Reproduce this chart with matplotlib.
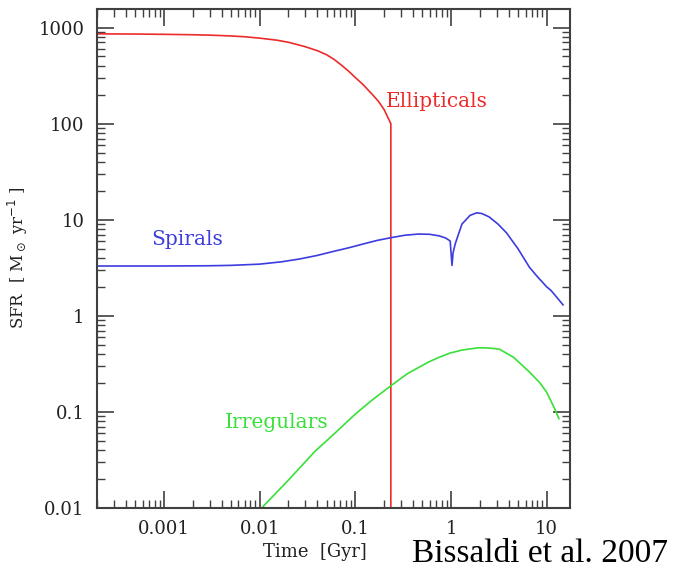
import matplotlib
matplotlib.use("Agg")
import matplotlib.pyplot as plt
from matplotlib.ticker import LogLocator, NullFormatter, FixedLocator, FixedFormatter

# Star formation rate histories (Gyr, Msun/yr)
ell_t = [2e-4, 5e-4, 0.001, 0.002, 0.003, 0.005, 0.007, 0.01, 0.015, 0.02, 0.03, 0.04,
         0.05, 0.06, 0.07, 0.085, 0.1, 0.12, 0.15, 0.175, 0.2, 0.235, 0.235]
ell_sfr = [860, 856, 850, 842, 834, 818, 802, 776, 740, 703, 632, 575,
           522, 466, 414, 352, 302, 256, 202, 170, 140, 100, 0.001]

spi_t = [2e-4, 0.001, 0.003, 0.005, 0.01, 0.017, 0.026, 0.04, 0.06, 0.085, 0.13, 0.17,
         0.235, 0.33, 0.46, 0.6, 0.75, 0.88, 0.98, 1.024, 1.05, 1.1, 1.15, 1.3, 1.58,
         1.85, 2.1, 2.5, 3.1, 3.8, 5.0, 6.6, 8.0, 10.0, 11.0, 11.6, 13.0, 14.8]
spi_sfr = [3.3, 3.3, 3.32, 3.35, 3.45, 3.65, 3.9, 4.25, 4.7, 5.1, 5.7, 6.1,
           6.5, 6.9, 7.1, 7.05, 6.8, 6.45, 6.0, 3.35, 4.5, 5.5, 6.3, 9.0, 11.1,
           11.8, 11.6, 10.7, 9.0, 7.3, 5.0, 3.2, 2.55, 2.0, 1.85, 1.74, 1.52, 1.3]

irr_t = [0.0105, 0.02, 0.038, 0.06, 0.1, 0.15, 0.235, 0.35, 0.58, 0.75, 0.98, 1.3,
         1.93, 2.5, 3.2, 4.5, 6.6, 8.5, 10.0, 12.0, 13.4]
irr_sfr = [0.01, 0.0195, 0.039, 0.059, 0.095, 0.133, 0.187, 0.25, 0.33, 0.37, 0.41, 0.44,
           0.465, 0.462, 0.45, 0.37, 0.26, 0.2, 0.16, 0.11, 0.085]

x_ticks = [0.001, 0.01, 0.1, 1, 10]
x_labels = ["0.001", "0.01", "0.1", "1", "10"]
y_ticks = [0.01, 0.1, 1, 10, 100, 1000]
y_labels = ["0.01", "0.1", "1", "10", "100", "1000"]

RED = "#ec2b2b"
BLUE = "#3c3ce0"
GREEN = "#38e038"
AXC = "#404040"

plt.rcParams["font.family"] = ["DejaVu Serif"]

fig = plt.figure(figsize=(6.73, 5.69), dpi=100)
ax = fig.add_axes([97 / 673, 1 - 508 / 569, (570 - 97) / 673, (508 - 9) / 569])

ax.plot(ell_t, ell_sfr, color=RED, lw=1.2)
ax.plot(spi_t, spi_sfr, color=BLUE, lw=1.2)
ax.plot(irr_t, irr_sfr, color=GREEN, lw=1.2)

ax.set_xscale("log")
ax.set_yscale("log")
ax.set_xlim(2e-4, 17.5)
ax.set_ylim(0.01, 1560)

ax.xaxis.set_major_locator(FixedLocator(x_ticks))
ax.xaxis.set_major_formatter(FixedFormatter(x_labels))
ax.yaxis.set_major_locator(FixedLocator(y_ticks))
ax.yaxis.set_major_formatter(FixedFormatter(y_labels))
ax.xaxis.set_minor_locator(LogLocator(base=10, subs=range(2, 10), numticks=20))
ax.yaxis.set_minor_locator(LogLocator(base=10, subs=range(2, 10), numticks=20))
ax.xaxis.set_minor_formatter(NullFormatter())
ax.yaxis.set_minor_formatter(NullFormatter())

for s in ax.spines.values():
    s.set_color(AXC)
    s.set_linewidth(1.5)
ax.tick_params(which="both", direction="in", top=True, right=True, color=AXC)
ax.tick_params(which="major", length=12, width=1.2, labelsize=13, pad=9, labelcolor="#222222")
ax.tick_params(which="minor", length=6, width=1.0)

ax.set_xlabel("Time  [Gyr]", fontsize=13, color="#222222")
ax.xaxis.set_label_coords((315 - 97) / 473, -0.07)
ax.set_ylabel(r"SFR  [ M$_\odot$ yr$^{-1}$ ]", fontsize=12, color="#222222")
ax.yaxis.set_label_coords(-(97 - 30) / 473, (569 - 258 - 61) / 499)

ax.text(0.211, 170, "Ellipticals", color=RED, fontsize=14.5, va="center")
ax.text(7.4e-4, 5.4, "Spirals", color=BLUE, fontsize=14.5, va="baseline")
ax.text(0.0043, 0.068, "Irregulars", color=GREEN, fontsize=14.5, va="baseline")

fig.text(412 / 673, 1 - 562 / 569, "Bissaldi et al. 2007", fontsize=24,
         family="Liberation Serif", color="black", va="baseline")

fig.savefig("out.png", dpi=100)
